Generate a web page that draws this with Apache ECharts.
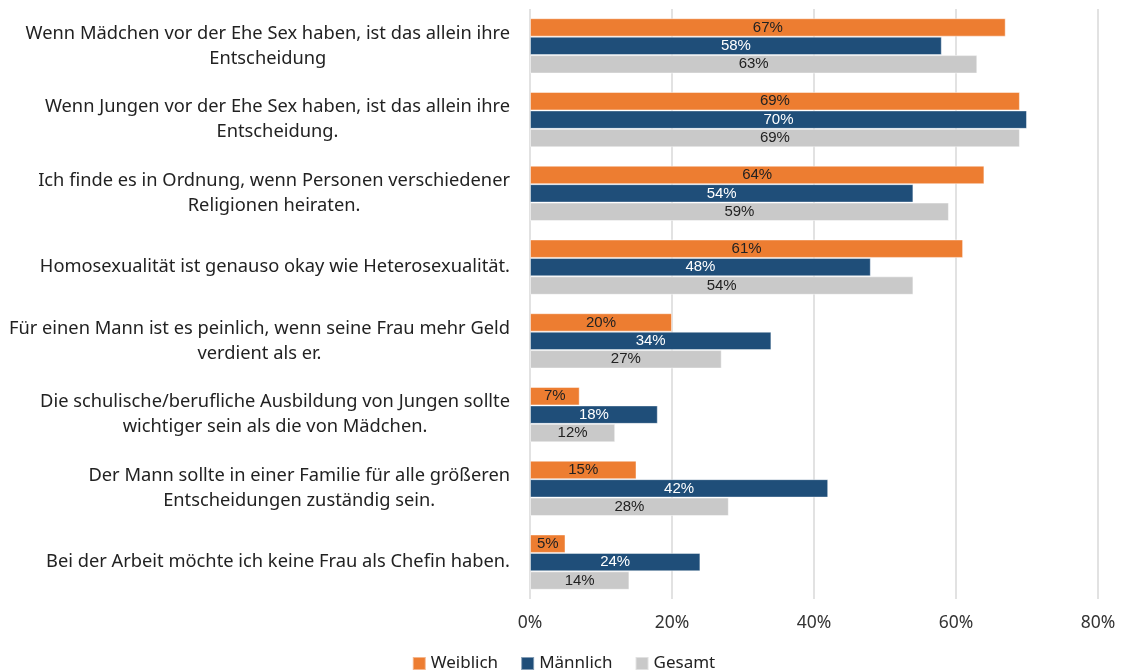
<!DOCTYPE html>
<html>
<head>
<meta charset="utf-8">
<script src="https://cdn.jsdelivr.net/npm/echarts@6/dist/echarts.min.js"></script>
<style>
  html, body { margin: 0; padding: 0; background: #fff; }
  #main { width: 1127px; height: 670px; }
</style>
</head>
<body>
<div id="main"></div>
<script>
var categories = [
  "Wenn Mädchen vor der Ehe Sex haben, ist das allein ihre\nEntscheidung",
  "Wenn Jungen vor der Ehe Sex haben, ist das allein ihre\nEntscheidung.",
  "Ich finde es in Ordnung, wenn Personen verschiedener\nReligionen heiraten.",
  "Homosexualität ist genauso okay wie Heterosexualität.",
  "Für einen Mann ist es peinlich, wenn seine Frau mehr Geld\nverdient als er.",
  "Die schulische/berufliche Ausbildung von Jungen sollte\nwichtiger sein als die von Mädchen.",
  "Der Mann sollte in einer Familie für alle größeren\nEntscheidungen zuständig sein.",
  "Bei der Arbeit möchte ich keine Frau als Chefin haben."
];
var weiblich = [67, 69, 64, 61, 20, 7, 15, 5];
var maennlich = [58, 70, 54, 48, 34, 18, 42, 24];
var gesamt = [63, 69, 59, 54, 27, 12, 28, 14];
var xTicks = [0, 20, 40, 60, 80];

var fontFamily = "'Noto Sans', 'Open Sans', sans-serif";
var labelFont = "'Liberation Sans', Arial, sans-serif";

function makeSeries(name, data, color, labelColor) {
  return {
    name: name,
    type: "bar",
    data: data,
    barGap: "0%",
    barCategoryGap: "25%",
    itemStyle: {
      color: color,
      borderColor: "rgba(255,255,255,0.45)",
      borderWidth: 1
    },
    label: {
      show: true,
      position: "inside",
      color: labelColor,
      fontFamily: labelFont,
      fontSize: 15,
      formatter: function (p) {
        return p.value + "%";
      }
    }
  };
}

var chart = echarts.init(document.getElementById("main"));
chart.setOption({
  animation: false,
  textStyle: { fontFamily: fontFamily },
  grid: { left: 530, right: 29, top: 9, bottom: 71, containLabel: false },
  legend: {
    top: 650,
    left: "center",
    itemWidth: 13,
    itemHeight: 13,
    itemGap: 22,
    icon: "rect",
    textStyle: { fontSize: 17, color: "#222", fontFamily: fontFamily },
    data: ["Weiblich", "Männlich", "Gesamt"]
  },
  xAxis: {
    type: "value",
    min: xTicks[0],
    max: xTicks[xTicks.length - 1],
    interval: 20,
    axisLine: { show: false },
    axisTick: { show: false },
    splitLine: { show: true, lineStyle: { color: "#d9d9d9", width: 1.5 } },
    axisLabel: {
      margin: 15,
      fontSize: 17.5,
      color: "#333",
      fontFamily: fontFamily,
      formatter: function (v) { return v + "%"; }
    }
  },
  yAxis: {
    type: "category",
    inverse: true,
    data: categories,
    axisLine: { show: false },
    axisTick: { show: false },
    axisLabel: {
      margin: 20,
      align: "right",
      formatter: function (v) {
        return v.split("\n").map(function (s) { return "{c|" + s + "}"; }).join("\n");
      },
      rich: {
        c: {
          align: "center",
          fontSize: 18.3,
          lineHeight: 25,
          color: "#222",
          fontFamily: fontFamily
        }
      }
    }
  },
  series: [
    makeSeries("Weiblich", weiblich, "#ED7D31", "#222"),
    makeSeries("Männlich", maennlich, "#1F4E79", "#fff"),
    makeSeries("Gesamt", gesamt, "#C9C9C9", "#222")
  ]
});
</script>
</body>
</html>
